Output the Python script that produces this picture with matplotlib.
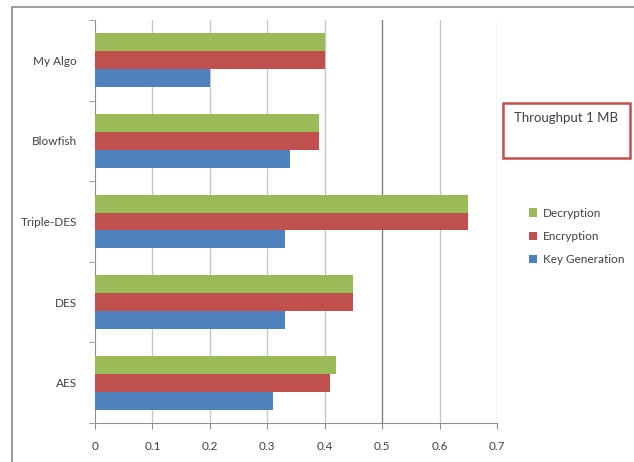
import numpy as np
import matplotlib.pyplot as plt
from matplotlib.patches import Rectangle

plt.rcParams['font.family'] = ['Lato', 'DejaVu Sans']

algorithms = ['AES', 'DES', 'Triple-DES', 'Blowfish', 'My Algo']
key_generation = [0.31, 0.33, 0.33, 0.34, 0.20]
encryption = [0.41, 0.45, 0.65, 0.39, 0.40]
decryption = [0.42, 0.45, 0.65, 0.39, 0.40]
xticks = [0, 0.1, 0.2, 0.3, 0.4, 0.5, 0.6, 0.7]

green = '#9BBB59'
red = '#C0504D'
blue = '#4F81BD'

fig = plt.figure(figsize=(6.34, 4.62), dpi=100)
ax = fig.add_axes([95 / 634, 1 - 423 / 462, 402 / 634, 403 / 462])

y = np.arange(len(algorithms))
h = 0.222
ax.barh(y - h, key_generation, height=h, color=blue, label='Key Generation', zorder=3)
ax.barh(y, encryption, height=h, color=red, label='Encryption', zorder=3)
ax.barh(y + h, decryption, height=h, color=green, label='Decryption', zorder=3)

ax.set_xlim(0, 0.7)
ax.set_ylim(-0.5, len(algorithms) - 0.5)
ax.set_xticks(xticks)
ax.set_xticklabels([f'{t:g}' for t in xticks], fontsize=8.5, color='#404040')
ax.set_yticks(y)
ax.set_yticklabels(algorithms, fontsize=8.5, color='#404040')
ax.tick_params(axis='y', length=0, pad=13)
ax.tick_params(axis='x', length=4, color='#909090', pad=9)
ax.set_yticks(np.arange(-0.5, len(algorithms)), minor=True)
ax.tick_params(axis='y', which='minor', length=4, color='#909090')

for t in xticks[1:]:
    c = '#808080' if t == 0.5 else '#C8C8C8'
    ax.axvline(t, color=c, lw=1, zorder=1)

for side in ['top', 'right']:
    ax.spines[side].set_visible(False)
for side in ['left', 'bottom']:
    ax.spines[side].set_color('#909090')

handles, labels = ax.get_legend_handles_labels()
leg = fig.legend(handles[::-1], labels[::-1], loc='upper left',
                 bbox_to_anchor=(518 / 634, 1 - 197 / 462), frameon=False,
                 fontsize=8.5, handlelength=0.7, handleheight=0.7,
                 handletextpad=0.5, labelspacing=1.05)
for txt in leg.get_texts():
    txt.set_color('#404040')

# title box on the right
fig.patches.append(Rectangle((503 / 634, 1 - 158 / 462), 127 / 634, 55 / 462,
                             transform=fig.transFigure, fill=False,
                             edgecolor='#C0504D', lw=1.8))
fig.text(514 / 634, 1 - 118 / 462, 'Throughput 1 MB', fontsize=9.5,
         color='#404040', va='center', ha='left')

# chart area border
fig.patches.append(Rectangle((12 / 634, -0.05), 1.0, 1.05 - 7 / 462,
                             transform=fig.transFigure, fill=False,
                             edgecolor='#8C8C8C', lw=1.2))

fig.savefig('out.png', dpi=100)
